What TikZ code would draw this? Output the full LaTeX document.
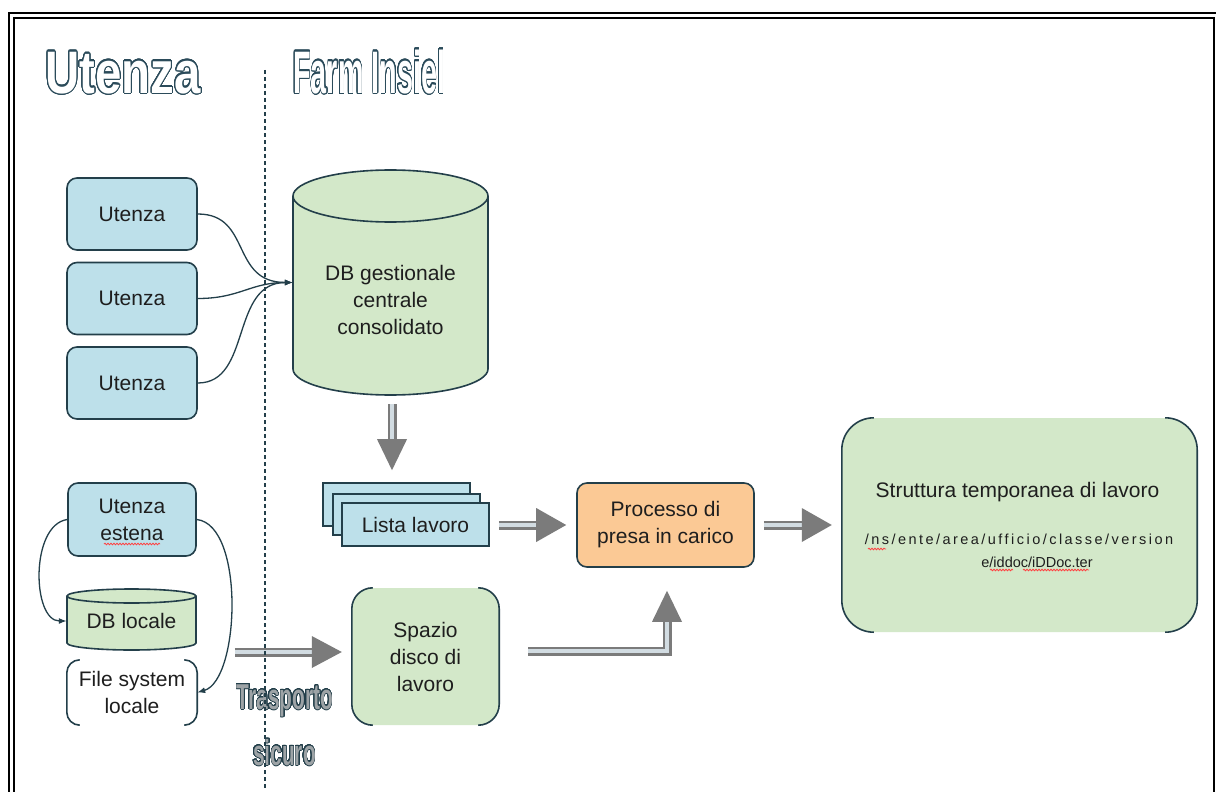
\documentclass[tikz,border=0pt]{standalone}
\usepackage{fontspec}
\setmainfont{Liberation Sans}
\newfontfamily\pathfont{Liberation Sans}
\newfontfamily\pathfontwide[LetterSpace=17]{Liberation Sans}
\usepackage{contour}
\contournumber{32}
\usetikzlibrary{calc,arrows.meta,decorations.pathmorphing}
\definecolor{edgec}{HTML}{233F4A}
\definecolor{headc}{HTML}{2B4B5A}
\definecolor{boxblue}{HTML}{BDE0EA}
\definecolor{boxgreen}{HTML}{D3E8C9}
\definecolor{boxorange}{HTML}{FBC995}
\definecolor{arrowg}{HTML}{7B7B7B}
\definecolor{shaftin}{HTML}{D2DCE2}
\definecolor{trasf}{HTML}{9DA3A6}
\definecolor{txt}{HTML}{1E1E1E}
\tikzset{
  edgeline/.style={draw=edgec, line width=1.6pt},
  ubox/.style={edgeline, fill=boxblue, rounded corners=10pt, minimum width=130pt, minimum height=72pt, inner sep=0pt, align=center},
  obox/.style={edgeline, fill=boxorange, rounded corners=10pt, minimum width=177pt, minimum height=84pt, inner sep=0pt, align=center},
  listbox/.style={edgeline, fill=boxblue, inner sep=0pt},
  gfill/.style={fill=boxgreen, inner sep=0pt, align=center},
  conn/.style={draw=edgec, line width=1.3pt, -{Latex[length=8pt,width=6pt]}},
  shaft/.style={draw=arrowg, line width=2.5pt, double=shaftin, double distance=4pt},
  headtri/.style={fill=arrowg},
  squig/.style={draw=red!75, line width=0.8pt, decorate, decoration={snake, amplitude=0.8pt, segment length=3pt}},
  bigtitle/.style={anchor=base west, inner sep=0pt, font=\fontsize{60}{60}\selectfont\bfseries},
  transtitle/.style={anchor=base, inner sep=0pt, font=\fontsize{36}{36}\selectfont\bfseries},
}
\newcommand\sidebrackets[2]{%
  \draw[edgeline, rounded corners=#2pt] ($(#1.north west)+(#2,0)$) -- (#1.north west) -- (#1.south west) -- ($(#1.south west)+(#2,0)$);
  \draw[edgeline, rounded corners=#2pt] ($(#1.north east)+(-#2,0)$) -- (#1.north east) -- (#1.south east) -- ($(#1.south east)+(-#2,0)$);}
\begin{document}
\begin{tikzpicture}[x=1pt, y=-1pt, font=\fontsize{21}{27}\selectfont, text=txt]
\useasboundingbox (0,0) rectangle (1216,792);
\fill[white] (0,0) rectangle (1216,792);
% frame
\draw[line width=2pt] (9,800) -- (9,13) -- (1230,13);
\draw[line width=2pt] (14.3,800) -- (14.3,18.3) -- (1214,18.3) -- (1214,800);
% headers
\contourlength{1.2pt}
\node[bigtitle] (hU) at (45,93) {\scalebox{0.79}[1]{\textcolor{white}{\contour{headc}{Utenza}}}};
\node[bigtitle] (hF) at (293,93) {\scalebox{0.48}[1]{\textcolor{white}{\contour{headc}{Farm Insiel}}}};
% utenza boxes
\node[ubox] (u1) at (132,214) {Utenza};
\node[ubox] (u2) at (132,298.5) {Utenza};
\node[ubox] (u3) at (132,383) {Utenza};
% central DB cylinder
\node[inner sep=0pt, minimum width=195pt, minimum height=225pt] (db) at (390.5,282.5) {};
\draw[edgeline, fill=boxgreen] (293,196) -- (293,369) arc[start angle=180, end angle=0, x radius=97.5, y radius=26]
  -- (488,196) arc[start angle=0, end angle=-180, x radius=97.5, y radius=26] -- cycle;
\draw[edgeline] (293,196) arc[start angle=180, end angle=0, x radius=97.5, y radius=26];
\node[align=center] (dbtext) at (390.5,300) {DB gestionale\\centrale\\consolidato};
% connectors utenza -> db
\draw[conn] (u1.east) .. controls (252,214) and (230,282.5) .. (db.west);
\draw[conn] (u2.east) .. controls (240,298.5) and (250,282.5) .. (db.west);
\draw[conn] (u3.east) .. controls (252,383) and (230,282.5) .. (db.west);
% utenza estena
\node[ubox, minimum width=128pt, minimum height=73pt] (ue) at (132,519.5) {Utenza\\estena};
\draw[squig] (104,544) -- (160,544);
% DB locale
\draw[edgeline, fill=boxgreen] (67,596) -- (67,643) arc[start angle=180, end angle=0, x radius=64.5, y radius=7]
  -- (196,596) arc[start angle=0, end angle=-180, x radius=64.5, y radius=7] -- cycle;
\draw[edgeline] (67,596) arc[start angle=180, end angle=0, x radius=64.5, y radius=7];
\node[inner sep=0pt, minimum width=129pt, minimum height=48pt] (dbloc) at (131.5,621) {DB locale};
% file system locale
\node[inner sep=0pt, minimum width=130pt, minimum height=65pt, align=center] (fs) at (132,692.5) {File system\\locale};
\sidebrackets{fs}{13}
% curves from utenza estena
\draw[conn] (ue.west) .. controls (30,525) and (32,621) .. (dbloc.west);
\draw[conn] (ue.east) .. controls (245,525) and (240,680) .. (fs.east);
% lista lavoro stack
\draw[listbox] (323,483) rectangle (470,526);
\draw[listbox] (333,494) rectangle (480,535);
\node[listbox, minimum width=147pt, minimum height=43pt] (lista) at (415.5,524.5) {Lista lavoro};
% processo
\node[obox] (proc) at (665.5,525) {Processo di\\presa in carico};
% struttura
\node[gfill, minimum width=355pt, minimum height=214pt, rounded corners=32pt] (strut) at (1019.5,525) {};
\sidebrackets{strut}{32}
\node (st1) at (1017.5,492) {Struttura temporanea di lavoro};
\node[font=\pathfontwide\fontsize{14.5}{18}\selectfont] (st2) at (1019,539) {/ns/ente/area/ufficio/classe/version};
\node[font=\pathfont\fontsize{14.5}{18}\selectfont] (st3) at (1037,562) {e/iddoc/iDDoc.ter};
\draw[squig] (868,549) -- (886,549);
\draw[squig] (990,570) -- (1013,570);
\draw[squig] (1023,570) -- (1089,570);
% spazio disco
\node[gfill, minimum width=147pt, minimum height=137pt, rounded corners=21pt] (spazio) at (425.5,656.5) {Spazio\\disco di\\lavoro};
\sidebrackets{spazio}{21}
% big arrows
\draw[shaft] ($(db.south)+(1.5,9)$) -- ($(db.south)+(1.5,47)$);
\fill[headtri] ($(db.south)+(1.5,75)$) -- ++(-15,-31) -- ++(30,0) -- cycle;
\draw[shaft] ($(lista.east)+(9,0.5)$) -- ($(proc.west)+(-38,0)$);
\fill[headtri] ($(proc.west)+(-10,0)$) -- ++(-30,-17) -- ++(0,34) -- cycle;
\draw[shaft] ($(proc.east)+(9,0)$) -- ($(strut.west)+(-38,0)$);
\fill[headtri] ($(strut.west)+(-10,0)$) -- ++(-30,-17) -- ++(0,34) -- cycle;
\draw[shaft] ($(spazio.east)+(29,-5.5)$) -| ($(proc.south)+(1.5,52)$);
\fill[headtri] ($(proc.south)+(1.5,23)$) -- ++(-15,31) -- ++(30,0) -- cycle;
\draw[shaft] ($(spazio.west)+(-117,-4.5)$) -- ($(spazio.west)+(-38,-4.5)$);
\fill[headtri] ($(spazio.west)+(-10,-4.5)$) -- ++(-30,-16) -- ++(0,32) -- cycle;
% trasporto sicuro
\contourlength{1.0pt}
\node[transtitle] (tr1) at (285,709) {\scalebox{0.58}[1]{\textcolor{trasf}{\contour{edgec}{Trasporto}}}};
\node[transtitle] (tr2) at (284.5,765) {\scalebox{0.58}[1]{\textcolor{trasf}{\contour{edgec}{sicuro}}}};
% dashed separator
\draw[draw=edgec, line width=1.3pt, dash pattern=on 4pt off 3pt] (265,70) -- (265,790);
\end{tikzpicture}
\end{document}
